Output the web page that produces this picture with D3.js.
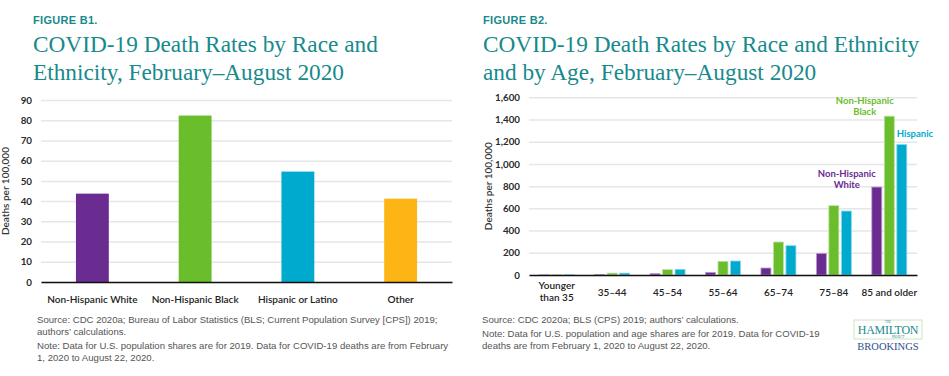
<!DOCTYPE html>
<html>
<head>
<meta charset="utf-8">
<script src="https://cdn.jsdelivr.net/npm/d3@7"></script>
<style>
  body { margin: 0; background: #fff; }
  svg text { font-family: Lato, 'Open Sans', sans-serif; }
  svg text.serif { font-family: 'Liberation Serif', serif; }
  svg text.note { font-family: 'Liberation Sans', Arial, sans-serif; }
</style>
</head>
<body>
<div id="chart"></div>
<script>
// figure B1 data
const raceGroups = ['Non-Hispanic White', 'Non-Hispanic Black', 'Hispanic or Latino', 'Other']
const raceRates  = [43.7, 82.3, 54.6, 41.2]
const raceTicks  = [0, 10, 20, 30, 40, 50, 60, 70, 80, 90]

// figure B2 data
const ageGroups     = ['Younger than 35', '35–44', '45–54', '55–64', '65–74', '75–84', '85 and older']
const ageSeries     = ['Non-Hispanic White', 'Non-Hispanic Black', 'Hispanic']
const whiteRates    = [1, 5, 12, 24, 63, 195, 792]
const blackRates    = [2, 17, 48, 123, 297, 624, 1430]
const hispanicRates = [2, 17, 51, 126, 264, 576, 1175]
const ageTicks      = [0, 200, 400, 600, 800, 1000, 1200, 1400, 1600]

const teal   = '#178a8c'
const purple = '#6b2c91'
const green  = '#6abd2b'
const blue   = '#00aacf'
const orange = '#fdb515'

var svg = d3.select('#chart').append('svg').attr('width', 949).attr('height', 376)

function header(x, fig, lines) {
  svg.append('text').attr('class', 'note').attr('x', x).attr('y', 24).attr('fill', teal)
    .style('font-weight', 700).style('font-size', '11px').style('letter-spacing', '0.3px').text(fig)
  lines.forEach((l, i) => {
    svg.append('text').attr('class', 'serif').attr('x', x).attr('y', 52 + i * 28)
      .attr('fill', teal).style('font-size', '23.3px').text(l)
  })
}

function notes(x, source, note) {
  var t = 323
  source.concat(note).forEach((l, i) => {
    if (i == source.length) t += 2
    svg.append('text').attr('class', 'note').attr('x', x).attr('y', t)
      .attr('fill', '#555').style('font-size', '9.6px').text(l)
    t += 12
  })
}

function yAxis(g, y, width, fmt) {
  g.call(d3.axisLeft(y).tickValues(y.ticksList).tickSize(-width).tickPadding(9).tickFormat(fmt))
  g.select('.domain').remove()
  g.selectAll('.tick line').attr('stroke', '#e6e6e6').attr('stroke-width', 1.5)
  g.selectAll('.tick text').attr('fill', '#2a2a2a').style('font-size', '9.8px').style('font-weight', 700)
}

// ---------- Figure B1 ----------
header(33, 'FIGURE B1.', ['COVID-19 Death Rates by Race and', 'Ethnicity, February–August 2020'])

var m1 = {left: 41, right: 452, top: 100, bottom: 282}
var x1 = d3.scaleBand().domain(raceGroups).range([m1.left, m1.right]).paddingInner(0.68).paddingOuter(0.34)
var y1 = d3.scaleLinear().domain([0, 90]).range([m1.bottom, m1.top])
y1.ticksList = raceTicks

var g1 = svg.append('g').attr('transform', 'translate(' + m1.left + ',0)')
yAxis(g1, y1, m1.right - m1.left, d3.format('d'))

svg.append('g').selectAll('rect').data(raceRates).join('rect')
  .attr('x', (d, i) => x1(raceGroups[i]))
  .attr('width', x1.bandwidth())
  .attr('y', d => y1(d))
  .attr('height', d => y1(0) - y1(d))
  .attr('fill', (d, i) => [purple, green, blue, orange][i])

var xa1 = svg.append('g').attr('transform', 'translate(0,' + m1.bottom + ')')
  .call(d3.axisBottom(x1).tickSize(0).tickPadding(14))
xa1.select('.domain').attr('stroke', '#111').attr('stroke-width', 1.5)
xa1.selectAll('text').attr('fill', '#222').style('font-size', '10px').style('font-weight', 600)

svg.append('text').attr('transform', 'translate(9,' + ((m1.top + m1.bottom) / 2) + ') rotate(-90)')
  .attr('text-anchor', 'middle').attr('fill', '#333').style('font-size', '10px').style('font-weight', 600)
  .text('Deaths per 100,000')

notes(37,
  ['Source: CDC 2020a; Bureau of Labor Statistics (BLS; Current Population Survey [CPS]) 2019;', 'authors’ calculations.'],
  ['Note: Data for U.S. population shares are for 2019. Data for COVID-19 deaths are from February', '1, 2020 to August 22, 2020.'])

// ---------- Figure B2 ----------
header(483, 'FIGURE B2.', ['COVID-19 Death Rates by Race and Ethnicity', 'and by Age, February–August 2020'])

var m2 = {left: 529, right: 917, top: 97.3, bottom: 275}
var x2 = d3.scaleBand().domain(ageGroups).range([m2.left, m2.right])
var xs = d3.scaleBand().domain(ageSeries).range([-17.5, 17.5]).paddingInner(0.2)
var y2 = d3.scaleLinear().domain([0, 1600]).range([m2.bottom, m2.top])
y2.ticksList = ageTicks

var g2 = svg.append('g').attr('transform', 'translate(' + m2.left + ',0)')
yAxis(g2, y2, m2.right - m2.left, d3.format(','))

var seriesData = [whiteRates, blackRates, hispanicRates]
var seriesColors = [purple, green, blue]
seriesData.forEach((vals, s) => {
  svg.append('g').selectAll('rect').data(vals).join('rect')
    .attr('x', (d, i) => x2(ageGroups[i]) + x2.bandwidth() / 2 + xs(ageSeries[s]))
    .attr('width', xs.bandwidth())
    .attr('y', d => y2(d))
    .attr('height', d => y2(0) - y2(d))
    .attr('fill', seriesColors[s])
    .attr('stroke', d3.interpolateRgb(seriesColors[s], '#fff')(0.55))
    .attr('stroke-width', 0.8)
})

var xa2 = svg.append('g').attr('transform', 'translate(0,' + m2.bottom + ')')
  .call(d3.axisBottom(x2).tickSize(0).tickPadding(14))
xa2.select('.domain').attr('stroke', '#111').attr('stroke-width', 1.5)
xa2.selectAll('text').attr('fill', '#222').style('font-size', '10px').style('font-weight', 600)
xa2.selectAll('.tick text').filter(d => d == ageGroups[0]).each(function() {
  var t = d3.select(this).text('')
  t.append('tspan').attr('x', 0).attr('dy', '-0.05em').text('Younger')
  t.append('tspan').attr('x', 0).attr('dy', '1.25em').text('than 35')
})

svg.append('text').attr('transform', 'translate(492,' + ((m2.top + m2.bottom) / 2) + ') rotate(-90)')
  .attr('text-anchor', 'middle').attr('fill', '#333').style('font-size', '10px').style('font-weight', 600)
  .text('Deaths per 100,000')

// series labels next to the oldest group
var last = ageGroups.length - 1
function seriesLabel(s, lines, anchor, dx, dy) {
  var bx = x2(ageGroups[last]) + x2.bandwidth() / 2 + xs(ageSeries[s])
  var by = y2(seriesData[s][last])
  lines.forEach((l, i) => {
    svg.append('text').attr('x', bx + dx).attr('y', by + dy + i * 10.5)
      .attr('text-anchor', anchor).attr('fill', seriesColors[s])
      .style('font-size', '9.5px').style('font-weight', 700).text(l)
  })
}
seriesLabel(0, ['Non-Hispanic', 'White'], 'middle', -25, -10)
seriesLabel(1, ['Non-Hispanic', 'Black'], 'middle', -19.5, -12)
seriesLabel(2, ['Hispanic'], 'start', 0, -7.5)

notes(482,
  ['Source: CDC 2020a; BLS (CPS) 2019; authors’ calculations.'],
  ['Note: Data for U.S. population and age shares are for 2019. Data for COVID-19', 'deaths are from February 1, 2020 to August 22, 2020.'])

// logo
var logo = svg.append('g')
logo.append('rect').attr('x', 854).attr('y', 320).attr('width', 68).attr('height', 19)
  .attr('fill', 'none').attr('stroke', '#cfe3c6').attr('stroke-width', 1)
logo.append('text').attr('class', 'serif').attr('x', 888).attr('y', 323.3).attr('text-anchor', 'middle')
  .attr('fill', teal).style('font-size', '3px').text('THE')
logo.append('text').attr('class', 'serif').attr('x', 888).attr('y', 333.5).attr('text-anchor', 'middle')
  .attr('fill', teal).style('font-size', '12px').style('letter-spacing', '-0.3px').text('HAMILTON')
logo.append('text').attr('class', 'serif').attr('x', 898).attr('y', 337.7).attr('text-anchor', 'middle')
  .attr('fill', teal).style('font-size', '3px').text('PROJECT')
logo.append('text').attr('class', 'serif').attr('x', 888).attr('y', 350).attr('text-anchor', 'middle')
  .attr('fill', '#2c4d8c').style('font-size', '10.5px').text('BROOKINGS')
</script>
</body>
</html>
